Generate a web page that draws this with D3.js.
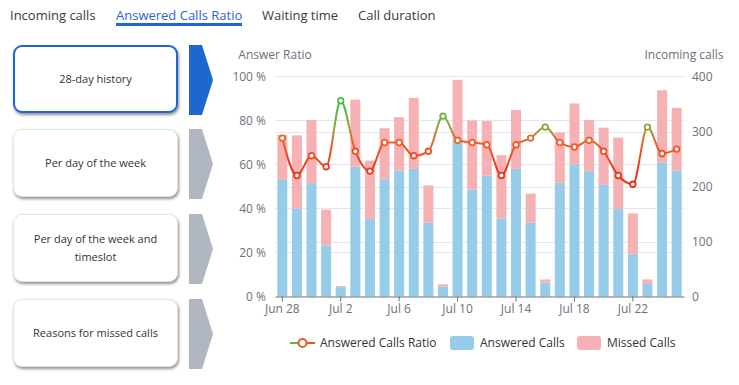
<!DOCTYPE html>
<html>
<head>
<meta charset="utf-8">
<script src="https://cdn.jsdelivr.net/npm/d3@7"></script>
<style>
  body { margin: 0; background: #fff; font-family: "Open Sans", sans-serif; }
  #root { position: relative; width: 739px; height: 385px; overflow: hidden; }
  .tab { position: absolute; top: 6px; font-size: 13px; color: #3a3a3a; white-space: nowrap; }
  .tab.active { color: #2f62cf; }
  .tab.active::after { content: ""; position: absolute; left: 0; right: 0; top: 17px; height: 3px; background: #1f66d1; }
  .btn { position: absolute; left: 13px; width: 165px; height: 68px; box-sizing: border-box;
    border: 1px solid #e4e4e4; border-radius: 9px; background: #fff;
    box-shadow: 1px 2px 3px rgba(70, 50, 50, 0.55);
    display: flex; align-items: center; justify-content: center; text-align: center;
    font-size: 11px; line-height: 18px; color: #333; padding: 0 10px; }
  .btn.active { border: 2px solid #1f66d1; }
  svg { position: absolute; left: 0; top: 0; }
</style>
</head>
<body>
<div id="root"></div>
<script>
// tabs + side menu
const tabs = ['Incoming calls', 'Answered Calls Ratio', 'Waiting time', 'Call duration'];
const tabX = [10, 116, 262, 358];
const views = ['28-day history', 'Per day of the week', 'Per day of the week and timeslot', 'Reasons for missed calls'];
const viewY = [45, 129, 214, 299];

// chart data
const days = ['Jun 28', 'Jun 29', 'Jun 30', 'Jul 1', 'Jul 2', 'Jul 3', 'Jul 4', 'Jul 5', 'Jul 6', 'Jul 7',
  'Jul 8', 'Jul 9', 'Jul 10', 'Jul 11', 'Jul 12', 'Jul 13', 'Jul 14', 'Jul 15', 'Jul 16', 'Jul 17',
  'Jul 18', 'Jul 19', 'Jul 20', 'Jul 21', 'Jul 22', 'Jul 23', 'Jul 24', 'Jul 25'];
const answered = [212, 160, 206, 93, 17, 236, 141, 213, 229, 232, 134, 18, 281, 194,
  220, 142, 232, 134, 25, 207, 240, 228, 203, 159, 77, 23, 243, 229];
const missed = [82, 133, 115, 65, 2, 122, 106, 93, 97, 129, 68, 4, 113, 126,
  99, 115, 107, 53, 6, 91, 111, 93, 104, 130, 74, 8, 132, 114];
const ratio = [72, 55, 64, 59, 89, 66, 57, 70, 70, 64, 66, 82, 71, 70,
  69, 55, 69, 72, 77, 70, 68, 71, 66, 55, 51, 77, 65, 67];
const ratioTicks = [0, 20, 40, 60, 80, 100];
const callTicks = [0, 100, 200, 300, 400];

const root = d3.select('#root');

tabs.forEach((t, i) => {
  root.append('div').attr('class', 'tab' + (i === 1 ? ' active' : ''))
    .style('left', tabX[i] + 'px').text(t);
});

views.forEach((v, i) => {
  root.append('div').attr('class', 'btn' + (i === 0 ? ' active' : ''))
    .style('top', viewY[i] + 'px').text(v);
});

const W = 739, H = 385;
const svg = root.append('svg').attr('width', W).attr('height', H);

// chevrons next to the menu
viewY.forEach((y, i) => {
  const pts = [[189, y], [202, y], [213, y + 35], [202, y + 70], [189, y + 70]];
  svg.append('polygon').attr('points', pts.map(p => p.join(',')).join(' '))
    .attr('fill', i === 0 ? '#1f66d1' : '#b1b7c1');
});

const plotL = 275, plotR = 684, plotT = 76.5, plotB = 296.5;
const axisColor = '#6E7079';

const x = d3.scaleBand().domain(days).range([plotL, plotR]).paddingInner(0.315).paddingOuter(0.1575);
const yL = d3.scaleLinear().domain([0, 100]).range([plotB, plotT]);
const yR = d3.scaleLinear().domain([0, 400]).range([plotB, plotT]);

const color = d3.scaleLinear()
  .domain([0, 50, 60, 70, 77, 85, 100])
  .range(['#e02a18', '#e22f1a', '#e9411f', '#f05e2a', '#8ea53c', '#52ba48', '#4cb947'])
  .clamp(true);

// grid
const grid = svg.append('g').attr('stroke', '#E0E6F1').attr('stroke-width', 1);
ratioTicks.slice(1).forEach(v => {
  grid.append('line').attr('x1', plotL).attr('x2', plotR).attr('y1', yL(v)).attr('y2', yL(v));
});
callTicks.slice(1, -1).forEach(v => {
  grid.append('line').attr('x1', plotL).attr('x2', plotR).attr('y1', Math.round(yR(v)) + 0.5).attr('y2', Math.round(yR(v)) + 0.5);
});

// axis labels
const lab = svg.append('g').attr('font-family', '"Open Sans", sans-serif').attr('font-size', 12).attr('fill', axisColor);
ratioTicks.forEach(v => {
  lab.append('text').attr('x', 266).attr('y', yL(v)).attr('dy', '0.35em').attr('text-anchor', 'end').text(v + ' %');
});
callTicks.forEach(v => {
  lab.append('text').attr('x', 692).attr('y', yR(v)).attr('dy', '0.35em').text(v);
});
lab.append('text').attr('x', plotL).attr('y', 55).attr('dy', '0.35em').attr('text-anchor', 'middle').text('Answer Ratio');
lab.append('text').attr('x', plotR).attr('y', 55).attr('dy', '0.35em').attr('text-anchor', 'middle').text('Incoming calls');

// stacked bars
const bars = svg.append('g');
days.forEach((d, i) => {
  bars.append('rect').attr('x', x(d)).attr('width', x.bandwidth())
    .attr('y', yR(answered[i])).attr('height', yR(0) - yR(answered[i]))
    .attr('fill', '#96cce9');
  bars.append('rect').attr('x', x(d)).attr('width', x.bandwidth())
    .attr('y', yR(answered[i] + missed[i])).attr('height', yR(answered[i]) - yR(answered[i] + missed[i]))
    .attr('fill', '#f5b1b4');
});

// x axis
const xAxis = svg.append('g').attr('transform', `translate(0,${plotB})`)
  .call(d3.axisBottom(x).tickValues(days.filter((d, i) => i % 4 === 0)).tickSize(5).tickSizeOuter(0).tickPadding(3));
xAxis.select('.domain').attr('stroke', axisColor);
xAxis.selectAll('.tick line').attr('stroke', axisColor);
xAxis.selectAll('.tick text').attr('fill', axisColor).attr('font-size', 12).attr('font-family', '"Open Sans", sans-serif');

// ratio line with value-based gradient
const defs = svg.append('defs');
const grad = defs.append('linearGradient').attr('id', 'ratioGrad')
  .attr('gradientUnits', 'userSpaceOnUse')
  .attr('x1', 0).attr('x2', 0).attr('y1', yL(0)).attr('y2', yL(100));
color.domain().forEach(v => {
  grad.append('stop').attr('offset', v / 100).attr('stop-color', color(v));
});

const cx = d => x(d) + x.bandwidth() / 2;
const line = d3.line().x((d, i) => cx(days[i])).y(d => yL(d)).curve(d3.curveMonotoneX);
svg.append('path').datum(ratio).attr('d', line)
  .attr('fill', 'none').attr('stroke', 'url(#ratioGrad)').attr('stroke-width', 2);
svg.append('g').selectAll('circle').data(ratio).join('circle')
  .attr('cx', (d, i) => cx(days[i])).attr('cy', d => yL(d)).attr('r', 2.8)
  .attr('fill', '#fff').attr('stroke', d => color(d)).attr('stroke-width', 1.8);

// legend
const lg = svg.append('g').attr('font-family', '"Open Sans", sans-serif').attr('font-size', 12).attr('fill', '#333');
const ly = 343;
lg.append('line').attr('x1', 290).attr('x2', 299).attr('y1', ly).attr('y2', ly).attr('stroke', '#5cb948').attr('stroke-width', 2);
lg.append('line').attr('x1', 306).attr('x2', 315).attr('y1', ly).attr('y2', ly).attr('stroke', '#ef5426').attr('stroke-width', 2);
lg.append('circle').attr('cx', 302.5).attr('cy', ly).attr('r', 4).attr('fill', '#fff').attr('stroke', '#ef5a28').attr('stroke-width', 2);
lg.append('text').attr('x', 320).attr('y', ly).attr('dy', '0.35em').text('Answered Calls Ratio');
lg.append('rect').attr('x', 450).attr('y', ly - 7).attr('width', 24).attr('height', 14).attr('rx', 3).attr('fill', '#96cce9');
lg.append('text').attr('x', 480).attr('y', ly).attr('dy', '0.35em').text('Answered Calls');
lg.append('rect').attr('x', 577).attr('y', ly - 7).attr('width', 24).attr('height', 14).attr('rx', 3).attr('fill', '#f5b1b4');
lg.append('text').attr('x', 607).attr('y', ly).attr('dy', '0.35em').text('Missed Calls');
</script>
</body>
</html>
